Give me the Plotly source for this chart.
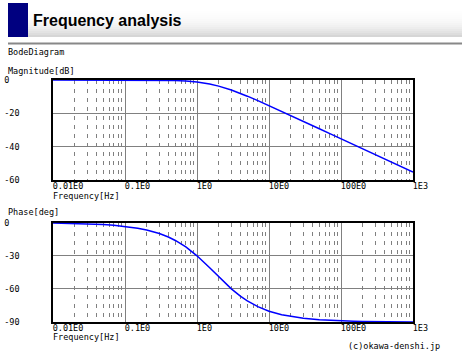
import plotly.graph_objects as go
from plotly.subplots import make_subplots

W, H = 462, 364

# ---- data ----
freq_hz = [0.01, 0.02, 0.03, 0.05, 0.07, 0.1, 0.15, 0.2, 0.3, 0.4, 0.5, 0.7,
           1, 1.5, 2, 3, 4, 5, 7, 10, 15, 20, 30, 50, 70, 100, 150, 200,
           300, 500, 700, 1000]
magnitude_db = [0.0, 0.0, 0.0, 0.0, 0.0, -0.01, -0.03, -0.06, -0.13, -0.23,
                -0.35, -0.66, -1.25, -2.43, -3.68, -6.03, -8.03, -9.71,
                -12.4, -15.37, -18.82, -21.29, -24.8, -29.22, -32.14, -35.24,
                -38.76, -41.26, -44.78, -49.22, -52.14, -55.24]
phase_deg = [-0.33, -0.66, -0.99, -1.65, -2.31, -3.3, -4.95, -6.59, -9.83,
             -13.0, -16.1, -22.0, -30.0, -40.9, -49.1, -60.0, -66.6, -70.9,
             -76.1, -80.2, -83.4, -85.0, -86.7, -88.0, -88.6, -89.0, -89.3,
             -89.5, -89.7, -89.8, -89.86, -89.9]

x_tick_vals = [0.01, 0.1, 1, 10, 100, 1000]
x_tick_text = ["0.01E0", "0.1E0", "1E0", "10E0", "100E0", "1E3"]
mag_tick_vals = [0, -20, -40, -60]
mag_tick_text = ["0", "-20", "-40", "-60"]
phase_tick_vals = [0, -30, -60, -90]
phase_tick_text = ["0", "-30", "-60", "-90"]
minor_vals = [m * 10 ** e for e in range(-2, 3) for m in range(2, 10)]

NB = "\u00a0"
def pad(s, n):
    return s + NB * (n - len(s))

MONO = "DejaVu Sans Mono"
FS = 8.5
CW = 0.602 * FS

fig = make_subplots(rows=2, cols=1)

fig.add_trace(go.Scatter(x=freq_hz, y=magnitude_db, mode="lines",
                         line=dict(color="#0000ff", width=1.5),
                         cliponaxis=False, showlegend=False), row=1, col=1)
fig.add_trace(go.Scatter(x=freq_hz, y=phase_deg, mode="lines",
                         line=dict(color="#0000ff", width=1.5),
                         cliponaxis=False, showlegend=False), row=2, col=1)

def px_x(p):
    return p / W

def px_y(p):
    return 1 - p / H

xdom = [px_x(53), px_x(413)]
top_dom = [px_y(180), px_y(80)]
bot_dom = [px_y(322), px_y(222.7)]

xaxis_common = dict(
    type="log", range=[-2, 3], domain=xdom, automargin=False,
    tickmode="array", tickvals=x_tick_vals,
    ticktext=[pad(t, 6) for t in x_tick_text],
    ticklabelshift=round(3 * CW), ticklabelstandoff=-3,
    tickfont=dict(family=MONO, size=FS, color="black"),
    showgrid=True, gridcolor="#808080", gridwidth=1,
    minor=dict(tickmode="array", tickvals=minor_vals, showgrid=True,
               gridcolor="#808080", gridwidth=1, griddash="4px,5px", ticks=""),
    showline=True, linecolor="black", linewidth=1.5, mirror=True,
    ticks="", zeroline=False, layer="below traces",
)
yaxis_common = dict(
    tickmode="array", automargin=False,
    tickfont=dict(family=MONO, size=FS, color="black"),
    showgrid=True, gridcolor="#808080", gridwidth=1,
    showline=True, linecolor="black", linewidth=1.5, mirror=True,
    ticks="", zeroline=False, layer="below traces",
    ticklabelstandoff=30,
)

fig.update_layout(
    width=W, height=H, margin=dict(l=0, r=0, t=0, b=0, pad=0),
    autosize=False,
    paper_bgcolor="white", plot_bgcolor="white", showlegend=False,
    xaxis=dict(**xaxis_common, anchor="y"),
    xaxis2=dict(**xaxis_common, anchor="y2"),
    yaxis=dict(**yaxis_common, domain=top_dom, range=[-60, 0],
               tickvals=mag_tick_vals,
               ticktext=[pad(t, 3) for t in mag_tick_text], anchor="x"),
    yaxis2=dict(**yaxis_common, domain=bot_dom, range=[-90, 0],
                tickvals=phase_tick_vals,
                ticktext=[pad(t, 3) for t in phase_tick_text], anchor="x2"),
)

# ---- page header ----
shapes = []
top, bottom = 3, 37
steps = 17
for i in range(steps):
    y0 = top + (bottom - top) * i / steps
    y1 = top + (bottom - top) * (i + 1) / steps
    t = (i + 0.5) / steps
    g = int(round(255 - 45 * t ** 3))
    shapes.append(dict(type="rect", xref="paper", yref="paper",
                       x0=px_x(28), x1=1, y0=px_y(y1), y1=px_y(y0),
                       fillcolor=f"rgb({g},{g},{g})", line=dict(width=0),
                       layer="below"))
shapes.append(dict(type="rect", xref="paper", yref="paper",
                   x0=px_x(8), x1=px_x(28), y0=px_y(37), y1=px_y(3),
                   fillcolor="#000080", line=dict(width=0), layer="below"))
shapes.append(dict(type="line", xref="paper", yref="paper",
                   x0=px_x(8), x1=1, y0=px_y(43.5), y1=px_y(43.5),
                   line=dict(color="#888888", width=2), layer="below"))
fig.update_layout(shapes=shapes)

def label(text, x, y, size=FS, family=MONO, bold=False):
    fig.add_annotation(text=f"<b>{text}</b>" if bold else text,
                       xref="paper", yref="paper",
                       x=px_x(x - 2), y=px_y(y), xanchor="left", yanchor="middle",
                       showarrow=False,
                       font=dict(family=family, size=size, color="black"))

label("Frequency analysis", 33, 20, size=16, family="Liberation Sans", bold=True)
label("BodeDiagram", 8, 52)
label("Magnitude[dB]", 8, 71)
label("Frequency[Hz]", 53, 196)
label("Phase[deg]", 8, 212)
label("Frequency[Hz]", 53, 337)
label("(c)okawa-denshi.jp", 348, 346)

fig.write_html(
    "out.html",
    config={"responsive": False, "displayModeBar": False},
    post_script="document.body.style.margin='0';document.body.style.overflow='hidden';",
)
